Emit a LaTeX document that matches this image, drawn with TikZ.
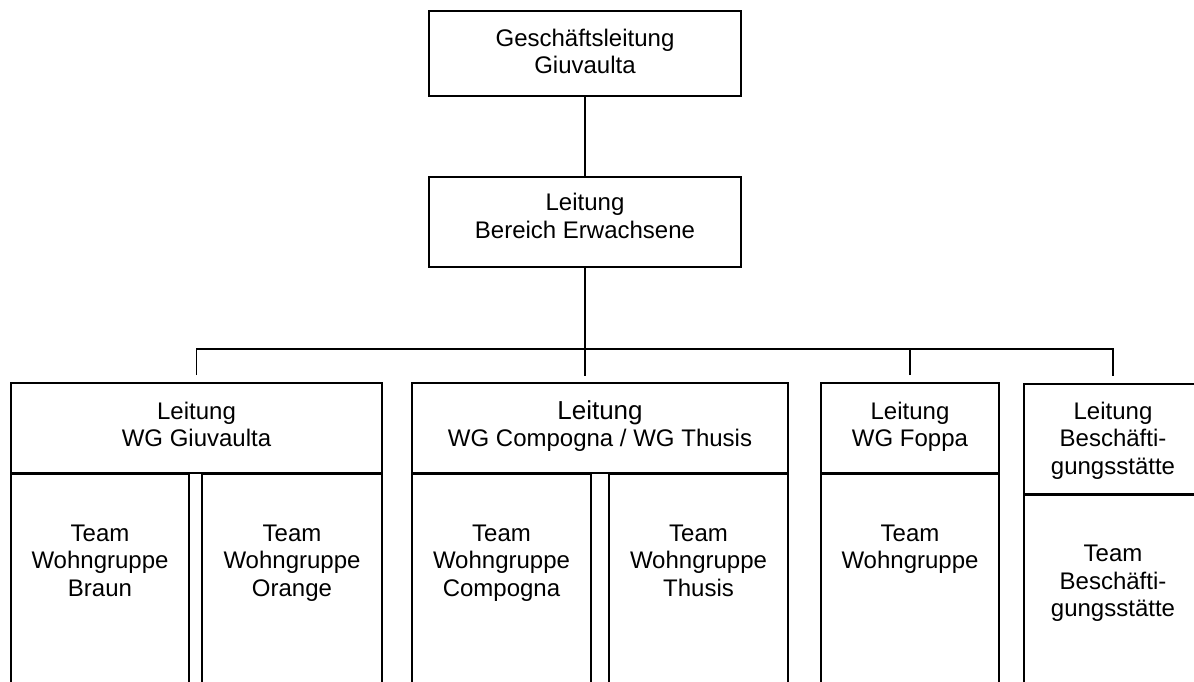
\documentclass[tikz,border=0pt]{standalone}
\usepackage{fontspec}
\setmainfont{Liberation Sans}

\begin{document}
\begin{tikzpicture}[x=1pt,y=-1pt,line width=1.6pt]
        \tikzstyle{every node}=[font=\fontsize{24}{27.5}\selectfont,align=center,inner sep=0pt]
        \tikzstyle{chef}=[draw,rectangle,minimum width=312pt]
        \tikzstyle{kopf}=[draw,rectangle,minimum height=90pt]
        \tikzstyle{spalte}=[draw,rectangle,minimum height=300pt]
        \tikzstyle{txt}=[anchor=north]
        \clip (0,0) rectangle (1194,681);
        \node[chef,minimum height=85pt] (gl) at (585,53.5) {};
        \node[chef,minimum height=90pt] (lbe) at (585,222) {};
        \node[kopf,minimum width=371pt] (kGiu) at (196.5,428) {};
        \node[kopf,minimum width=376pt] (kKomp) at (600,428) {};
        \node[kopf,minimum width=178pt] (kFoppa) at (910,428) {};
        \node[kopf,minimum width=178pt,minimum height=110pt] (kBesch) at (1113,439) {};
        \node[spalte,minimum width=178pt,anchor=north west] (sBraun) at (kGiu.south west) {};
        \node[spalte,minimum width=180pt,anchor=north east] (sOrange) at (kGiu.south east) {};
        \node[spalte,minimum width=179pt,anchor=north west] (sKomp) at (kKomp.south west) {};
        \node[spalte,minimum width=179pt,anchor=north east] (sThusis) at (kKomp.south east) {};
        \node[spalte,minimum width=178pt,anchor=north] (sFoppa) at (kFoppa.south) {};
        \node[spalte,minimum width=178pt,anchor=north] (sBesch) at (kBesch.south) {};
        \node[txt] (tGl) at ([yshift=-18pt]gl.north) {Geschäftsleitung\\Giuvaulta};
        \node[txt] (tLbe) at ([yshift=-16.5pt]lbe.north) {Leitung\\Bereich Erwachsene};
        \node[txt] (tGiu) at ([yshift=-18.7pt]kGiu.north) {Leitung\\WG Giuvaulta};
        \node[txt] (tKomp) at ([yshift=-17.5pt]kKomp.north) {{\fontsize{26}{29}\selectfont Leitung}\\WG Compogna / WG Thusis};
        \node[txt] (tFoppa) at ([yshift=-18.7pt]kFoppa.north) {Leitung\\WG Foppa};
        \node[txt] (tBesch) at ([yshift=-18pt]kBesch.north) {Leitung\\Beschäfti-\\gungsstätte};
        \node[txt] (tBraun) at ([yshift=-50pt]sBraun.north) {Team\\Wohngruppe\\Braun};
        \node[txt] (tOrange) at ([yshift=-50pt]sOrange.north) {Team\\Wohngruppe\\Orange};
        \node[txt] (tKompTeam) at ([yshift=-50pt]sKomp.north) {Team\\Wohngruppe\\Compogna};
        \node[txt] (tThusis) at ([yshift=-50pt]sThusis.north) {Team\\Wohngruppe\\Thusis};
        \node[txt] (tFoppaTeam) at ([yshift=-50pt]sFoppa.north) {Team\\Wohngruppe};
        \node[txt] (tBeschTeam) at ([yshift=-49.5pt]sBesch.north) {Team\\Beschäfti-\\gungsstätte};
        \coordinate (bus) at (585,349);
        \draw (gl) -- (lbe);
        \draw (lbe) -- (bus);
        \draw ([yshift=7pt]kGiu.north) |- (bus) -| ([yshift=7pt]kBesch.north);
        \draw (bus) -- ++(0,27);
        \draw ([yshift=7pt]kFoppa.north) -- ++(0,-27);
\end{tikzpicture}
\end{document}
